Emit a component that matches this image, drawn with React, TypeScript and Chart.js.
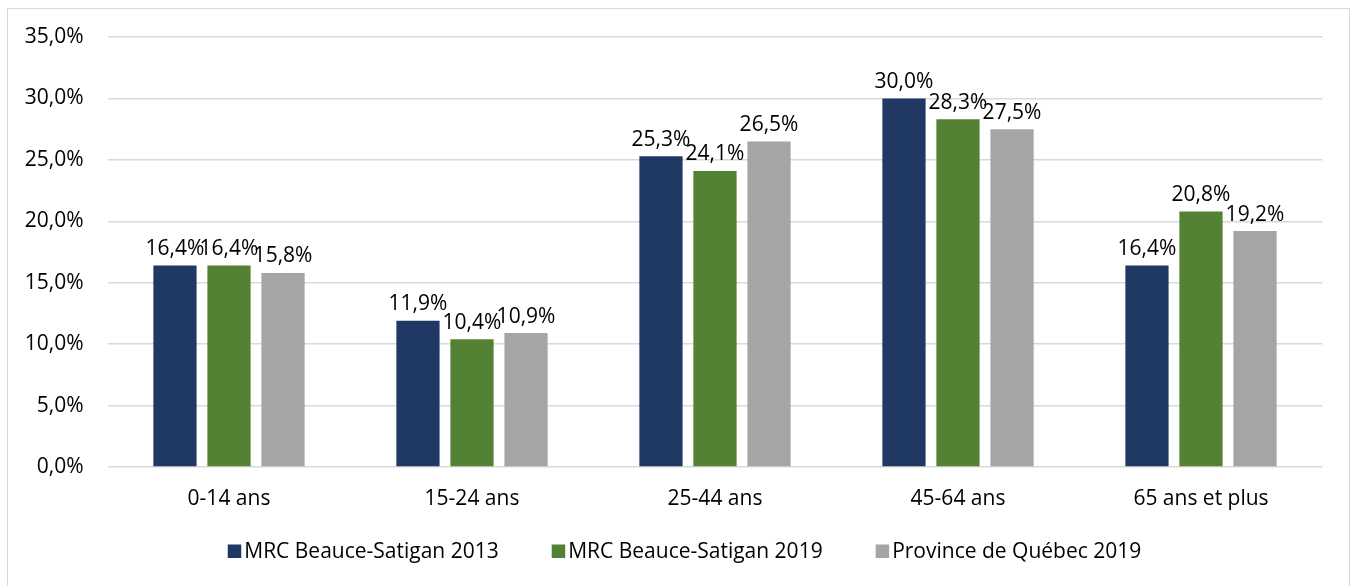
import React, { useEffect, useRef } from "react";
import { Chart, registerables } from "chart.js";

Chart.register(...registerables);

const categories = ["0-14 ans", "15-24 ans", "25-44 ans", "45-64 ans", "65 ans et plus"];
const seriesNames = ["MRC Beauce-Satigan 2013", "MRC Beauce-Satigan 2019", "Province de Québec 2019"];
const mrc2013 = [16.4, 11.9, 25.3, 30.0, 16.4];
const mrc2019 = [16.4, 10.4, 24.1, 28.3, 20.8];
const quebec2019 = [15.8, 10.9, 26.5, 27.5, 19.2];
const seriesColors = ["#203864", "#548235", "#A5A5A5"];
const yTicks = [0, 5, 10, 15, 20, 25, 30, 35];

const FONT = "'Open Sans', sans-serif";
const FS = 21;

const fmt = (v: number) => v.toFixed(1).replace(".", ",") + "%";

const labelsPlugin = {
  id: "valueLabels",
  afterDatasetsDraw(chart: any) {
    const ctx = chart.ctx;
    ctx.save();
    ctx.font = `${FS}px ${FONT}`;
    ctx.fillStyle = "#000";
    ctx.textAlign = "center";
    ctx.textBaseline = "alphabetic";
    chart.data.datasets.forEach((ds: any, i: number) => {
      const meta = chart.getDatasetMeta(i);
      meta.data.forEach((bar: any, j: number) => {
        ctx.fillText(fmt(ds.data[j]), bar.x, bar.y - 10.5);
      });
    });
    ctx.restore();
  },
};

const legendPlugin = {
  id: "customLegend",
  afterDraw(chart: any) {
    const ctx = chart.ctx;
    ctx.save();
    ctx.font = `${FS}px ${FONT}`;
    const box = 13.5;
    const gapBoxText = 3;
    const gapItems = 53;
    const widths = seriesNames.map((n) => ctx.measureText(n).width);
    const total =
      widths.reduce((a, b) => a + b, 0) + seriesNames.length * (box + gapBoxText) + gapItems * (seriesNames.length - 1);
    let x = 684.5 - total / 2;
    const baseline = 558;
    seriesNames.forEach((n, i) => {
      ctx.fillStyle = seriesColors[i];
      ctx.fillRect(x, baseline - box, box, box);
      x += box + gapBoxText;
      ctx.fillStyle = "#000";
      ctx.textBaseline = "alphabetic";
      ctx.textAlign = "left";
      ctx.fillText(n, x, baseline);
      x += widths[i] + gapItems;
    });
    ctx.restore();
  },
};

export default function App() {
  const ref = useRef<HTMLCanvasElement>(null);
  useEffect(() => {
    document.body.style.margin = "0";
    const canvas = ref.current!;
    const chart = new Chart(canvas, {
      type: "bar",
      data: {
        labels: categories,
        datasets: [mrc2013, mrc2019, quebec2019].map((d, i) => ({
          label: seriesNames[i],
          data: d,
          backgroundColor: seriesColors[i],
          categoryPercentage: 0.667,
          barPercentage: 0.8,
        })),
      },
      options: {
        responsive: false,
        animation: false,
        devicePixelRatio: 1,
        layout: { padding: { left: 7.5, right: 31.5, top: 37, bottom: 69 } },
        plugins: {
          legend: { display: false },
          tooltip: { enabled: false },
        },
        scales: {
          x: {
            grid: { display: false, drawTicks: false },
            border: { display: false },
            ticks: { color: "#000", font: { family: FONT, size: FS }, padding: 19, maxRotation: 0 },
            afterFit(scale: any) {
              scale.height = 50;
            },
          },
          y: {
            min: 0,
            max: 35,
            afterBuildTicks(scale: any) {
              scale.ticks = yTicks.map((v) => ({ value: v }));
            },
            grid: { color: "#d9d9d9", lineWidth: 1.5, drawTicks: false },
            border: { display: false },
            ticks: {
              color: "#000",
              font: { family: FONT, size: FS },
              padding: 24,
              callback: (v: any) => fmt(Number(v)),
            },
            afterFit(scale: any) {
              scale.width = 100;
            },
          },
        },
      },
      plugins: [labelsPlugin, legendPlugin],
    });
    return () => chart.destroy();
  }, []);
  return (
    <div style={{ position: "relative", width: 1354, height: 586, overflow: "hidden", background: "#fff" }}>
      <div
        style={{
          position: "absolute",
          left: 7,
          top: 8,
          width: 1343,
          height: 620,
          border: "1.5px solid #d9d9d9",
          boxSizing: "border-box",
        }}
      />
      <canvas ref={ref} width={1354} height={586} style={{ position: "absolute", left: 0, top: 0, display: "block" }} />
    </div>
  );
}
